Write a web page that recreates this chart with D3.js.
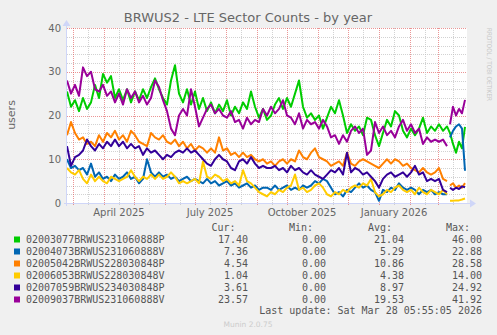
<!DOCTYPE html>
<html>
<head>
<meta charset="utf-8">
<title>BRWUS2 - LTE Sector Counts - by year</title>
<script src="https://d3js.org/d3.v7.min.js"></script>
<style>
  body { margin: 0; background: #f0f0f0; }
  svg { display: block; font-family: "DejaVu Sans", sans-serif; }
  .lbl { fill: #666; font-size: 10px; }
  .mono { font-family: "DejaVu Sans Mono", monospace; font-size: 10px; fill: #555; }
</style>
</head>
<body>
<script>
// time points: days after 2025-02-23, a gap (no data) at day 382
var days = d3.range(0, 381, 4).concat([382], d3.range(383, 399, 3));

var names = ["02003077BRWUS231060888P", "02004073BRWUS231060888V", "02005042BRWUS228030848P",
             "02006053BRWUS228030848V", "02007059BRWUS234030848P", "02009037BRWUS231060888V"];

var s1 = [25.5,22,23.5,21,24,21.5,23,27,24,29.5,27.5,29,24,26,23.5,26,23,25.5,23.5,26,
          24,26.5,28.5,26,24,22.5,28,31.5,25,23,26,22.5,25.5,21.5,24,21,23,20.5,22.5,21,
          23.5,20,22,20.5,23,21.5,25.5,22,19.5,21.5,19,20,22.5,24,21.5,24,22,25,28,22,
          19.5,20.5,19,20,17,19.5,22,20.5,23.5,20,16,18,16.5,17.5,15.5,19.5,19,15.5,13,16,
          19,17.5,21,20,16.5,15,17,15.5,17,19.5,16,17.5,16.5,18,16.5,17.5,
          16.5, 16,13.5,11.5,14,12.5,17.4];
var s2 = [10,8,8.5,7.5,8,6.5,9,6,7,5.5,6,5,6.5,5.5,6,7,5.5,6,4.5,5.5,
          10,7,6,7,6,6.5,5.5,6,5,5.5,6,5,5.5,5,4.5,5.5,4.5,5,4,4.5,
          5,4,4.5,3.5,4,4.5,3.5,4,3,3.5,3.5,3,4,3,3.5,4,3,3.5,3,4,
          3.5,4,5,4.5,5.5,5,3.5,2,2.5,1.5,3,2.5,3.5,4.5,3.5,4,3,2.5,0.5,3,
          2.5,3.5,3,4.5,3.5,3,3.5,3,2,3,2.5,3,2,2.5,2,2,
          null, 15,16.5,17.5,18,17,7.36];
var s3 = [15.5,18.5,16,14.5,15,13.5,14,13,15.5,14,16,15,16.5,14.5,15.5,14,16.5,15.5,14,13.5,
          13,16,15,14.5,15.5,14,13.5,14.5,13,14,12.5,13.5,12,13,12.5,11.5,12.5,11.5,15,12,
          12.5,11,11.5,10.5,11.5,10.5,11,10,9.5,10,9,9.5,8.5,9.5,10,9,10,9.5,12,10.5,
          10,11.5,12.5,10.5,10,9.5,8.5,9,9.5,8.5,11.5,9,8.5,9.5,10,9.5,9,8.5,8,9,
          10,9,10,9.5,8.5,9,8,7.5,7,8,7,6.5,7,8,5.5,5,
          null, 4,4.5,3.5,4,3.5,4.54];
var s4 = [8,7,6.5,7.5,5.5,4.5,6.5,5,6,5,4.5,6,5.5,5,5.5,6,7.5,6,5,6,
          5.5,6.5,5.5,6.5,5.5,6,7,6,4.5,5,4.5,5,5.5,4.5,9.5,6,5.5,6.5,6,5,
          5.5,4.5,5,4,7.5,5,4.5,3.5,2.5,2,1.5,2.5,2,3,2.5,3.5,4,6.5,3,3.5,
          2.5,3,4,4.5,3.5,2,1.5,2.5,2,3,2.5,3.5,4,3.5,4.5,4,5.5,2.5,1.5,2,
          3,2.5,3.5,4,3,2.5,3,2,3.5,2.5,2,3,2.5,2,3,2,
          null, 0.5,0.5,0.6,0.6,0.8,1.04];
var s5 = [13,8.5,10.5,11,12,14.5,13,12,13.5,12.5,14,13,14.5,13,14,12.5,13.5,12.5,13,11,
          12.5,11.5,12,11,10,11,10.5,11.5,12,11.5,12.5,11.5,12,11,10,9,8.5,10,11,10,
          9.5,8,7.5,9.5,10,9,10.5,9,8,8.5,8,8,8.5,7.5,8,7,8.5,7.5,8,7,
          6.5,7.5,6.5,6,5.5,6.5,7.5,7,8,6.5,11.5,7,8,7.5,6.5,7,6,5,3.5,5.5,
          6.5,7,6,6.5,7,6,7,8.5,6.5,7,5,5.5,5,5.5,3,2.5,
          null, 3.5,3,3.5,3.2,3.8,3.61];
var s6 = [28,25,27,24.5,31,29,30,26,25.5,27,24.5,25.5,23,25,22.5,26,24,25.5,23,24.5,
          22.5,24,28,26.5,23.5,21,17,15.5,20,21.5,20,26,22,17.5,19.5,21.5,22.5,20.5,21.5,20,
          19.5,21,18.5,19,17,19.5,18,19,18.5,21.5,20,22,20.5,21.5,23.5,20,19.5,18,20.5,17,
          19,18,18.5,17,19,17.5,15,15.5,13.5,15.5,14,16.5,17.5,16,17,11,12,18.5,16,17.5,
          15.5,16.5,15,17.5,19,16.5,18,16,17,13.5,15,14,14.5,14,14.5,13,
          null, 18,22,20,21.5,20.5,23.57];
var series = [s1, s2, s3, s4, s5, s6];

var yTicks = [0, 10, 20, 30, 40];
var curVals = ["17.40", "7.36", "4.54", "1.04", "3.61", "23.57"];
var minVals = ["0.00", "0.00", "0.00", "0.00", "0.00", "0.00"];
var avgVals = ["21.04", "5.29", "10.86", "4.38", "8.97", "19.53"];
var maxVals = ["46.00", "22.88", "28.58", "14.00", "24.92", "41.92"];

var colors = ["#00cc00", "#0066b3", "#ff8000", "#ffcc00", "#330099", "#990099"];

var W = 497, H = 335;
var pl = 67, pr = 467, pt = 28, pb = 203;
var start = new Date(Date.UTC(2025, 1, 23));
var end = new Date(Date.UTC(2026, 2, 30));

var svg = d3.select("body").append("svg").attr("width", W).attr("height", H);
svg.append("rect").attr("width", W).attr("height", H).attr("fill", "#f0f0f0");
svg.append("rect").attr("x", pl).attr("y", pt).attr("width", pr - pl).attr("height", pb - pt).attr("fill", "#fff");

var x = d3.scaleUtc().domain([start, end]).range([pl, pr]);
var y = d3.scaleLinear().domain([0, 40]).range([pb, pt]);

var dates = days.map(function(d) { return d3.utcDay.offset(start, d); });

// grid
var grid = svg.append("g").attr("shape-rendering", "crispEdges");
d3.range(2, 41, 2).forEach(function(v) {
  var py = Math.round(y(v)) + 0.5;
  grid.append("line").attr("x1", pl).attr("x2", pr).attr("y1", py).attr("y2", py)
    .attr("stroke", v % 10 == 0 ? "rgba(222,79,79,0.6)" : "rgba(191,191,191,0.7)")
    .attr("stroke-dasharray", "1,1");
});
d3.utcMonth.range(start, end).forEach(function(m) {
  var px = Math.round(x(m)) + 0.5;
  grid.append("line").attr("x1", px).attr("x2", px).attr("y1", pt).attr("y2", pb + 2)
    .attr("stroke", "rgba(222,79,79,0.6)").attr("stroke-dasharray", "1,1");
  var mid = d3.utcDay.offset(m, 15);
  if (mid < end) {
    var px2 = Math.round(x(mid)) + 0.5;
    grid.append("line").attr("x1", px2).attr("x2", px2).attr("y1", pt).attr("y2", pb + 2)
      .attr("stroke", "rgba(191,191,191,0.7)").attr("stroke-dasharray", "1,1");
  }
});

// lines
var line = d3.line()
  .defined(function(d) { return d[1] != null; })
  .x(function(d) { return x(d[0]); })
  .y(function(d) { return y(d[1]); });

series.forEach(function(s, i) {
  svg.append("path")
    .datum(s.map(function(v, j) { return [dates[j], v]; }))
    .attr("fill", "none")
    .attr("stroke", colors[i])
    .attr("stroke-width", 2)
    .attr("stroke-linejoin", "round")
    .attr("d", line);
});

// axes
var axisCol = "#cfd6f8";
svg.append("line").attr("x1", pl - 3).attr("x2", pr + 4).attr("y1", pb + 0.5).attr("y2", pb + 0.5)
  .attr("stroke", axisCol).attr("shape-rendering", "crispEdges");
svg.append("path").attr("d", "M" + (pr + 3) + "," + (pb - 3.5) + "L" + (pr + 9) + "," + (pb + 0.5) + "L" + (pr + 3) + "," + (pb + 4.5) + "Z")
  .attr("fill", axisCol);
svg.append("line").attr("x1", pl - 0.5).attr("x2", pl - 0.5).attr("y1", pb + 3).attr("y2", pt - 3)
  .attr("stroke", axisCol).attr("shape-rendering", "crispEdges");
svg.append("path").attr("d", "M" + (pl - 4.5) + "," + (pt - 2) + "L" + (pl - 0.5) + "," + (pt - 8) + "L" + (pl + 3.5) + "," + (pt - 2) + "Z")
  .attr("fill", axisCol);

// tick labels
yTicks.forEach(function(t) {
  svg.append("text").attr("class", "lbl").attr("x", 61).attr("y", y(t) + 3.5)
    .attr("text-anchor", "end").text(t);
});
var fmt = d3.utcFormat("%B %Y");
d3.utcMonth.every(3).range(start, end).forEach(function(m) {
  svg.append("text").attr("class", "lbl").attr("x", x(d3.utcDay.offset(m, 15))).attr("y", 216)
    .attr("text-anchor", "middle").text(fmt(m));
});

svg.append("text").attr("class", "lbl").attr("transform", "translate(15,115) rotate(-90)")
  .attr("text-anchor", "middle").style("font-size", "11px").text("users");

svg.append("text").attr("x", 248).attr("y", 22).attr("text-anchor", "middle")
  .style("font-size", "13px").attr("fill", "#666").text("BRWUS2 - LTE Sector Counts - by year");

svg.append("text").attr("transform", "translate(487,28) rotate(90)")
  .attr("fill", "#c8c8c8").style("font-size", "6.5px")
  .attr("textLength", 73).attr("lengthAdjust", "spacingAndGlyphs")
  .text("RRDTOOL / TOBI OETIKER");

// legend
var heads = [["Cur:", 235.5], ["Min:", 313], ["Avg:", 392], ["Max:", 470]];
heads.forEach(function(h) {
  svg.append("text").attr("class", "mono").attr("x", h[1]).attr("y", 231)
    .attr("text-anchor", "end").text(h[0]);
});
var cols = [[curVals, 248], [minVals, 326], [avgVals, 404], [maxVals, 482]];
names.forEach(function(n, i) {
  var by = 243 + i * 12;
  svg.append("rect").attr("x", 14).attr("y", by - 6.5).attr("width", 6).attr("height", 6).attr("fill", colors[i]);
  svg.append("text").attr("class", "mono").attr("x", 26).attr("y", by).text(n);
  cols.forEach(function(c) {
    svg.append("text").attr("class", "mono").attr("x", c[1]).attr("y", by)
      .attr("text-anchor", "end").text(c[0][i]);
  });
});
svg.append("text").attr("class", "mono").attr("x", 482).attr("y", 314)
  .attr("text-anchor", "end").text("Last update: Sat Mar 28 05:55:05 2026");

svg.append("text").attr("x", 248).attr("y", 327).attr("text-anchor", "middle")
  .attr("fill", "#cccccc").style("font-size", "7.5px").text("Munin 2.0.75");
</script>
</body>
</html>
